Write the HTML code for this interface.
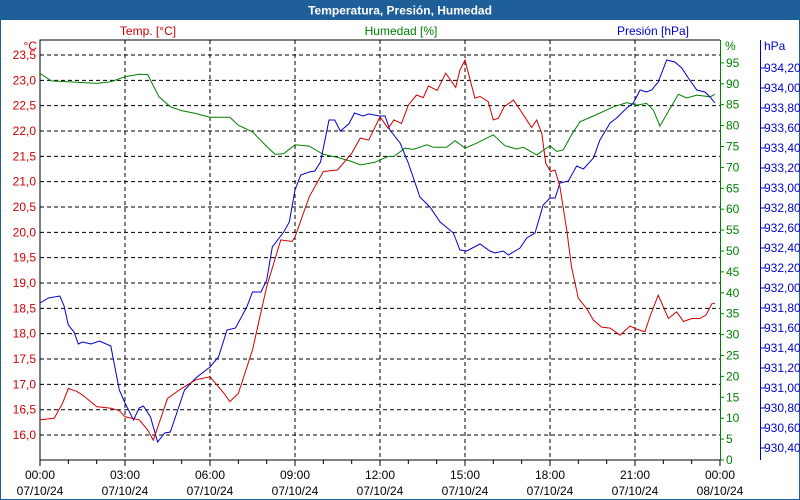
<!DOCTYPE html>
<html><head><meta charset="utf-8"><style>
html,body{margin:0;padding:0;background:#fff}
#wrap{position:relative;width:800px;height:500px;overflow:hidden;font-family:"Liberation Sans",sans-serif}
svg text{font-family:"Liberation Sans",sans-serif;font-size:12px}
</style></head><body>
<div id="wrap">
<svg id="chart" width="800" height="500">
<rect x="0" y="0" width="800" height="500" fill="#fff" stroke="#1f5f99" stroke-width="2"/>
<rect x="0" y="0" width="800" height="20" fill="#1f5f99"/>
<text x="400" y="14.5" text-anchor="middle" fill="#fff" font-weight="bold">Temperatura, Presión, Humedad</text>
<text x="148" y="35" text-anchor="middle" fill="#d00000">Temp. [°C]</text>
<text x="401" y="35" text-anchor="middle" fill="#008000">Humedad [%]</text>
<text x="653" y="35" text-anchor="middle" fill="#0000cc">Presión [hPa]</text>
<text x="37" y="50" text-anchor="end" fill="#d00000">°C</text>
<text x="725" y="50" fill="#008000">%</text>
<text x="764" y="50" fill="#0000cc">hPa</text>
<g id="grid"></g><g id="axes"></g><g id="series"></g>
</svg>
</div>
<script>
const xTickLabels=["00:00","03:00","06:00","09:00","12:00","15:00","18:00","21:00","00:00"];
const xDateLabels=["07/10/24","07/10/24","07/10/24","07/10/24","07/10/24","07/10/24","07/10/24","07/10/24","08/10/24"];
const tempTicks=[16.0,16.5,17.0,17.5,18.0,18.5,19.0,19.5,20.0,20.5,21.0,21.5,22.0,22.5,23.0,23.5];
const humTicks=[0,5,10,15,20,25,30,35,40,45,50,55,60,65,70,75,80,85,90,95];
const presTicks=[930.4,930.6,930.8,931.0,931.2,931.4,931.6,931.8,932.0,932.2,932.4,932.6,932.8,933.0,933.2,933.4,933.6,933.8,934.0,934.2];

const tempHours=[0,0.5,0.8,1.0,1.3,1.5,2.0,2.5,2.8,3.0,3.5,3.8,4.0,4.5,5.0,5.5,6.0,6.5,6.7,7.0,7.5,8.0,8.5,8.9,9.0,9.5,10.0,10.5,11.0,11.3,11.6,12.0,12.29,12.49,12.76,13.0,13.29,13.53,13.71,14.02,14.32,14.67,14.82,15.0,15.35,15.53,15.82,16.0,16.18,16.38,16.71,17.06,17.35,17.53,17.71,17.85,18.02,18.18,18.35,18.59,18.76,19.0,19.29,19.53,19.82,20.12,20.47,20.82,21.06,21.35,21.53,21.82,22.18,22.47,22.71,23.0,23.29,23.51,23.71,23.82];
const tempValues=[16.30,16.33,16.63,16.92,16.86,16.79,16.56,16.53,16.48,16.36,16.30,16.10,15.90,16.72,16.92,17.09,17.15,16.82,16.66,16.82,17.68,18.93,19.85,19.82,19.91,20.70,21.20,21.23,21.56,21.86,21.82,22.28,22.05,22.22,22.15,22.51,22.71,22.66,22.89,22.80,23.14,22.86,23.20,23.40,22.65,22.68,22.58,22.22,22.25,22.48,22.61,22.32,22.07,22.22,21.95,21.36,21.20,21.23,20.90,20.05,19.32,18.70,18.50,18.27,18.13,18.11,17.97,18.15,18.09,18.04,18.34,18.76,18.30,18.43,18.24,18.30,18.30,18.37,18.59,18.60];

const humHours=[0,0.4,1.0,2.0,2.5,3.0,3.5,3.8,4.2,4.6,5.0,5.5,6.0,6.7,7.0,7.5,8.0,8.3,8.6,9.0,9.5,10.0,10.5,11.0,11.3,11.8,12.0,12.29,12.49,12.88,13.18,13.65,13.88,14.35,14.65,15.0,15.41,16.0,16.41,16.82,17.06,17.53,18.0,18.24,18.47,18.76,19.06,19.53,20.24,20.71,21.06,21.41,21.65,21.88,22.24,22.53,22.82,23.18,23.65,23.82];
const humValues=[92.5,90.7,90.5,90.1,90.5,91.7,92.3,92.2,86.9,84.5,83.6,82.9,82.0,82.0,80.1,78.5,75.0,73.1,73.3,75.4,75.1,73.1,72.4,71.4,70.6,71.2,71.8,72.6,72.6,74.6,74.3,75.4,74.8,74.8,76.4,74.6,75.8,77.8,75.2,74.4,74.8,73.0,75.2,73.8,74.2,77.8,80.9,82.3,84.5,85.5,84.9,85.3,83.7,79.9,84.1,87.5,86.6,87.3,86.9,87.5];

const presHours=[0,0.3,0.7,0.85,1.0,1.2,1.35,1.5,1.8,2.1,2.5,2.8,3.0,3.3,3.5,3.65,3.9,4.15,4.4,4.6,4.9,5.1,5.5,6.0,6.3,6.6,6.9,7.3,7.5,7.8,8.0,8.2,8.6,8.8,9.0,9.2,9.5,9.7,9.9,10.2,10.4,10.6,10.9,11.1,11.4,11.6,12.0,12.18,12.35,12.71,13.0,13.41,13.76,14.12,14.59,14.82,15.06,15.53,15.88,16.06,16.35,16.53,16.94,17.18,17.47,17.76,18.0,18.18,18.35,18.65,18.94,19.18,19.53,19.76,20.12,20.35,20.71,20.94,21.18,21.41,21.59,21.82,22.12,22.41,22.65,22.88,23.18,23.47,23.65,23.82];
const presValues=[931.85,931.90,931.92,931.82,931.63,931.56,931.44,931.46,931.44,931.47,931.42,930.98,930.85,930.68,930.80,930.82,930.71,930.46,930.55,930.56,930.81,930.98,931.10,931.21,931.31,931.58,931.60,931.81,931.96,931.96,932.08,932.41,932.56,932.66,932.98,933.13,933.16,933.17,933.26,933.68,933.68,933.57,933.64,933.75,933.72,933.74,933.72,933.72,933.58,933.45,933.25,932.91,932.81,932.66,932.55,932.38,932.37,932.44,932.37,932.35,932.37,932.33,932.40,932.50,932.55,932.83,932.90,932.90,933.05,933.07,933.22,933.19,933.30,933.48,933.65,933.70,933.80,933.85,933.98,933.96,933.98,934.06,934.28,934.26,934.20,934.10,933.98,933.96,933.91,933.85];

const NS="http://www.w3.org/2000/svg";
const L=40,R=720,T=40,B=460;
const xS=h=>L+h*(R-L)/24;
const yT=v=>55+(23.5-v)*50.67;
const yH=v=>460-v*4.18;
const yP=v=>448-(v-930.4)*100;
function mk(tag,attrs,parent){const e=document.createElementNS(NS,tag);for(const k in attrs)e.setAttribute(k,attrs[k]);parent.appendChild(e);return e;}
const grid=document.getElementById('grid'),axes=document.getElementById('axes'),series=document.getElementById('series');

tempTicks.forEach(v=>{
  const ln=mk('line',{x1:L,x2:R,y1:yT(v),y2:yT(v),stroke:'#000','stroke-dasharray':'4,3'},grid);
  
  
  const t=mk('text',{x:36,y:yT(v)+4,'text-anchor':'end',fill:'#d00000'},axes);
  t.textContent=v.toFixed(1).replace('.',',');
  
  
});
xTickLabels.forEach((lab,i)=>{
  const x=xS(i*3);
  if(i>0&&i<8){const g=mk('line',{x1:x,x2:x,y1:T,y2:B,stroke:'#000','stroke-dasharray':'4,3'},grid);
    
    }
  const t=mk('text',{x:x,y:479,'text-anchor':'middle',fill:'#000'},axes);
  t.textContent=lab;
  
  
  const d=mk('text',{x:x,y:495,'text-anchor':'middle',fill:'#000'},axes);
  d.textContent=xDateLabels[i];
  
  
});
for(let h=0;h<=24;h++){const x=xS(h);const tk=mk('line',{x1:x,x2:x,y1:B,y2:B+(h%3===0?6:4),stroke:'#000'},axes);
  
  }
humTicks.forEach(v=>{
  const tk=mk('line',{x1:720,x2:724,y1:yH(v),y2:yH(v),stroke:'#008000'},axes);
  
  
  const t=mk('text',{x:726,y:yH(v)+4,fill:'#008000'},axes);
  t.textContent=String(v);
  
  
});
presTicks.forEach(v=>{
  const tk=mk('line',{x1:761,x2:765,y1:yP(v),y2:yP(v),stroke:'#0000cc'},axes);
  
  
  const t=mk('text',{x:764,y:yP(v)+4,fill:'#0000cc'},axes);
  t.textContent=v.toFixed(2).replace('.',',');
  
  
});
const ax1=mk('path',{d:`M${L},${B}V${T}H${R}`,fill:'none',stroke:'#000'},axes);


const ax2=mk('line',{x1:L,x2:R,y1:B,y2:B,stroke:'#000'},axes);


const ax3=mk('line',{x1:720.5,x2:720.5,y1:T,y2:B,stroke:'#008000'},axes);


const ax4=mk('line',{x1:760.5,x2:760.5,y1:T,y2:B,stroke:'#0000cc'},axes);



function line(hs,vs,yf,col,name){
  const d=hs.map((h,i)=>(i?'L':'M')+xS(h).toFixed(1)+','+yf(vs[i]).toFixed(1)).join('');
  const p=mk('path',{d:d,fill:'none',stroke:col,'stroke-width':1},series);
  
  
}
line(humHours,humValues,yH,'#008000','humidity-line');
line(presHours,presValues,yP,'#0000cc','pressure-line');
line(tempHours,tempValues,yT,'#d00000','temperature-line');
</script>
</body></html>
